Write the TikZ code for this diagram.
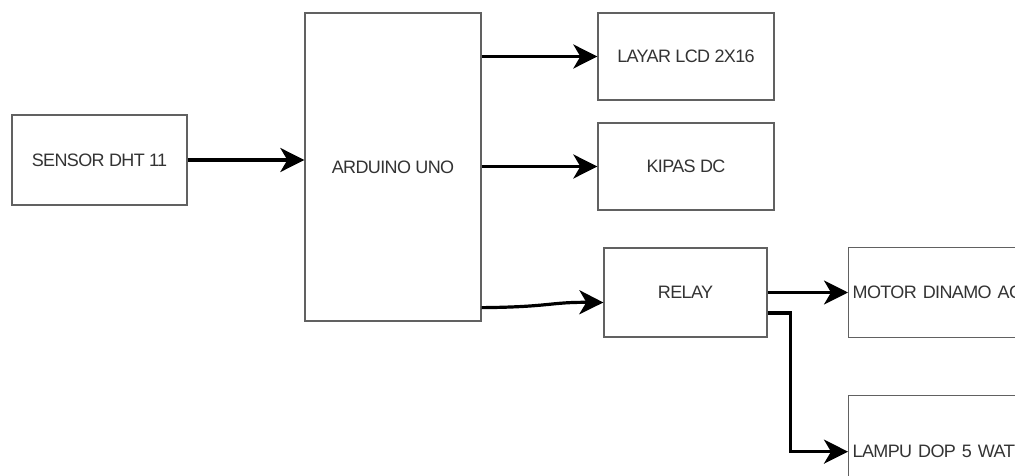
\documentclass[tikz,border=0pt]{standalone}
\usepackage{fontspec}
\setmainfont{Liberation Sans}
\newfontfamily\boxfont[LetterSpace=-3.5]{Liberation Sans}
\usetikzlibrary{arrows.meta,calc}
\begin{document}
\begin{tikzpicture}[x=1pt,y=-1pt,
  box/.style={draw=black!62, line width=1.3pt, fill=white, inner sep=0pt,
    font=\boxfont\fontsize{18}{20}\selectfont, text=black!80},
  arr/.style={line width=3.2pt, draw=black,
    -{Stealth[length=24pt,width=24pt,inset=7pt]}}]
\useasboundingbox (0,0) rectangle (1015,476);
\clip (0,0) rectangle (1015,476);
\node[box, minimum width=175pt, minimum height=90pt] (sensor) at (99.5,160) {SENSOR DHT 11};
\node[box, minimum width=176pt, minimum height=308pt] (ard) at (393,167) {ARDUINO UNO};
\node[box, minimum width=176pt, minimum height=87pt] (lcd) at (686,56.5) {LAYAR LCD 2X16};
\node[box, minimum width=176pt, minimum height=87pt] (kipas) at (686,166.5) {KIPAS DC};
\node[box, minimum width=163pt, minimum height=89pt] (relay) at (685.5,292.5) {RELAY};
\node[box, anchor=north west, minimum height=90pt, text width=260pt, align=left, inner sep=4pt] (motor) at (848,247) {MOTOR DINAMO AC};
\node[box, anchor=north west, minimum height=112pt, text width=260pt, align=left, inner sep=4pt] (lamp) at (848,395) {LAMPU DOP 5 WATT};
\draw[arr] (sensor.east) -- (sensor.east -| ard.west);
\draw[arr] (ard.east |- lcd.west) -- (lcd.west);
\draw[arr] (ard.east |- kipas.west) -- (kipas.west);
\draw[arr] ($(ard.south east)+(0,-14)$) .. controls (550,307) and (550,302) .. ($(relay.west)+(0,10)$);
\draw[arr] (relay.east) -- (relay.east -| motor.west);
\draw[arr] ($(relay.east)+(0,20.5)$) -- ++(23,0) |- (lamp.west);
\end{tikzpicture}
\end{document}
